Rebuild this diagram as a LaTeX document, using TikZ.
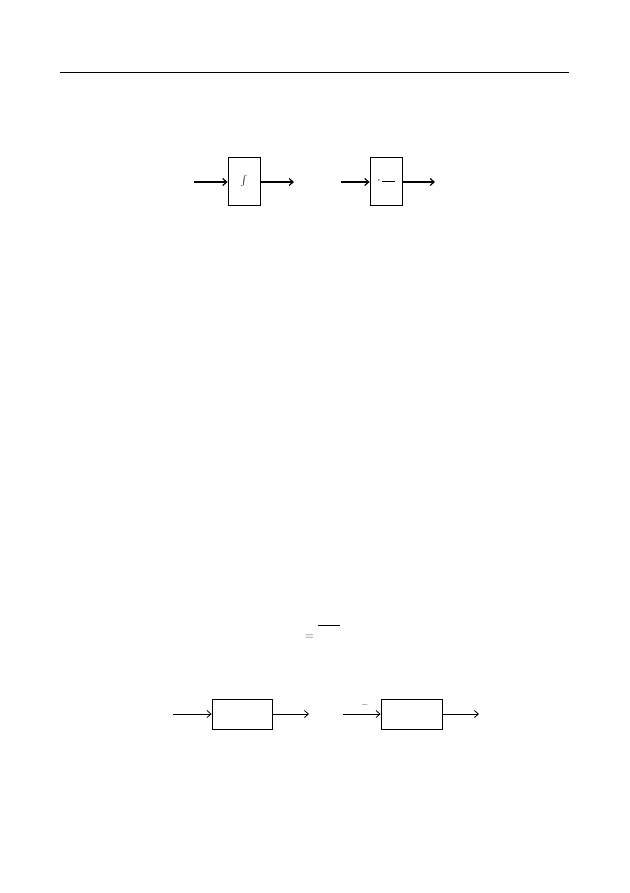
\documentclass[tikz,border=0pt]{standalone}
\usepackage{xcolor}
\usepackage{tikz}
\usetikzlibrary{positioning, arrows.meta}

\begin{document}
\begin{tikzpicture}[
            x=1pt, y=-1pt,
            box/.style={draw, rectangle, line width=0.8pt, inner sep=0pt, fill=white},
            arrow/.style={-{Straight Barb[length=4pt, width=7pt]}, line width=1.2pt},
            thinarrow/.style={-{Straight Barb[length=4pt, width=7pt]}, line width=0.8pt}
        ]
            \useasboundingbox (0,0) rectangle (629,893);

            % --- HEADER RULE ---
            \draw[line width=0.8pt] (60,72) -- (569,72);

            % --- TOP: INTEGRATOR AND DIFFERENTIATOR ---
            \node[box, minimum width=32, minimum height=48] (int_box) at (244,181) {\large$\int$};
            \coordinate (int_in) at (194,182);
            \coordinate (int_out) at (294,182);
            \draw[arrow] (int_in) -- (int_box.west |- int_in);
            \draw[arrow] (int_box.east |- int_out) -- (int_out);

            \node[box, minimum width=32, minimum height=48] (diff_box) at (386,181) {\large$\cdot$\hspace{1pt}\rule[0.3ex]{13pt}{0.7pt}};
            \coordinate (diff_in) at (341,182);
            \coordinate (diff_out) at (435,182);
            \draw[arrow] (diff_in) -- (diff_box.west |- diff_in);
            \draw[arrow] (diff_box.east |- diff_out) -- (diff_out);

            % --- MIDDLE: EQUATION FRAGMENT ---
            \node[text=black!75, font=\large, inner sep=0pt] (eq_sign) at (309.5,637) {$=$};
            \draw[line width=0.8pt] (318,625) -- (340,625);

            % --- BOTTOM: TWO BLOCKS ---
            \node[box, minimum width=60, minimum height=30] (blk1) at (242,714) {};
            \coordinate (blk1_in) at (173,714);
            \coordinate (blk1_out) at (309,714);
            \draw[thinarrow] (blk1_in) -- (blk1);
            \draw[thinarrow] (blk1) -- (blk1_out);

            \node[box, minimum width=61, minimum height=30] (blk2) at (411.5,714) {};
            \coordinate (blk2_in) at (343,714);
            \coordinate (blk2_out) at (479,714);
            \draw[thinarrow] (blk2_in) -- node[above=2pt, font=\small, text=black!75, xshift=3pt] {$-$} (blk2);
            \draw[thinarrow] (blk2) -- (blk2_out);

        \end{tikzpicture}
\end{document}
